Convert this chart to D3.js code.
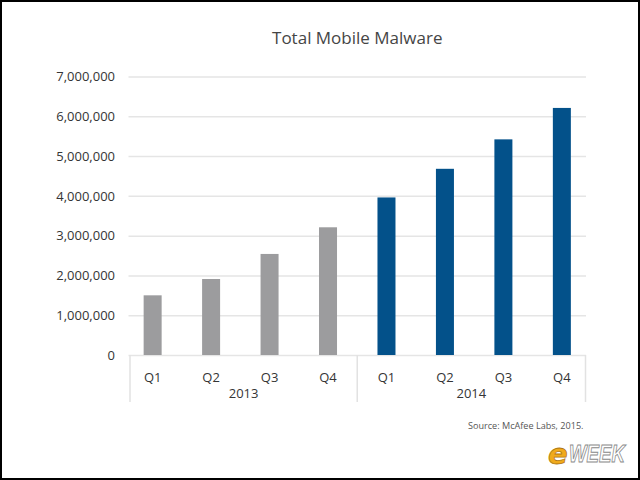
<!DOCTYPE html>
<html>
<head>
<meta charset="utf-8">
<script src="https://cdn.jsdelivr.net/npm/d3@7"></script>
<style>
  html, body { margin: 0; padding: 0; background: #fff; }
  svg { display: block; }
  text { font-family: "Open Sans", "Noto Sans", sans-serif; }
</style>
</head>
<body>
<svg id="chart" width="640" height="480"></svg>
<script>
// ---- data ----
const quarters = ["Q1", "Q2", "Q3", "Q4", "Q1", "Q2", "Q3", "Q4"];
const years = ["2013", "2013", "2013", "2013", "2014", "2014", "2014", "2014"];
const values = [1500000, 1910000, 2540000, 3210000, 3960000, 4680000, 5420000, 6210000];
const yTicks = [0, 1000000, 2000000, 3000000, 4000000, 5000000, 6000000, 7000000];
const yearLabels = ["2013", "2014"];
const chartTitle = "Total Mobile Malware";
const sourceText = "Source: McAfee Labs, 2015.";

// ---- layout ----
const plotLeft = 128.5, plotRight = 586, plotTop = 76.5, plotBottom = 355;
const svg = d3.select("#chart");

svg.append("rect").attr("x", 0).attr("y", 0).attr("width", 640).attr("height", 480).attr("fill", "#fff");

const keys = quarters.map((q, i) => years[i] + " " + q);
const x = d3.scaleBand().domain(keys).range([plotLeft, plotRight]).paddingInner(0.692).paddingOuter(0.259);
const y = d3.scaleLinear().domain([0, 7000000]).range([plotBottom, plotTop]);

// gridlines + y labels
const yAxis = d3.axisLeft(y).tickValues(yTicks).tickFormat(d3.format(",")).tickSize(-(plotRight - plotLeft)).tickPadding(13.5);
const gy = svg.append("g").attr("transform", `translate(${plotLeft},0)`).call(yAxis);
gy.select(".domain").remove();
gy.selectAll(".tick line").attr("stroke", "#e5e5e5").attr("stroke-width", 1.5);
gy.selectAll(".tick text").attr("fill", "#353535").style("font-size", "13px");

// bars
svg.append("g").selectAll("rect").data(values).join("rect")
  .attr("x", (d, i) => x(keys[i]))
  .attr("width", x.bandwidth())
  .attr("y", d => y(d))
  .attr("height", d => y(0) - y(d))
  .attr("fill", (d, i) => years[i] === "2013" ? "#9c9c9e" : "#03518a");

// x axis (quarters)
const xAxis = d3.axisBottom(x).tickSize(0).tickPadding(17.5).tickFormat((d, i) => quarters[i]);
const gx = svg.append("g").attr("transform", `translate(0,${plotBottom})`).call(xAxis);
gx.select(".domain").remove();
gx.selectAll(".tick text").attr("fill", "#353535").style("font-size", "13px");

// group separators and year labels
const gStart = plotLeft + 1.5;
const gMid = (x(keys[3]) + x(keys[4]) + x.bandwidth()) / 2;
const gEnd = plotRight - 0.5;
const seps = [gStart, gMid, gEnd];
svg.append("g").selectAll("line").data(seps).join("line")
  .attr("x1", d => d).attr("x2", d => d)
  .attr("y1", plotBottom).attr("y2", 402)
  .attr("stroke", "#e2e2e2").attr("stroke-width", 1.5);

const groupCenters = [(gStart + gMid) / 2, (gMid + gEnd) / 2];
svg.append("g").selectAll("text").data(yearLabels).join("text")
  .attr("x", (d, i) => groupCenters[i])
  .attr("y", 397.5)
  .attr("text-anchor", "middle")
  .attr("fill", "#353535")
  .style("font-size", "13px")
  .text(d => d);

// title
svg.append("text")
  .attr("x", (plotLeft + plotRight) / 2)
  .attr("y", 43.5)
  .attr("text-anchor", "middle")
  .attr("fill", "#454545")
  .style("font-size", "17px")
  .text(chartTitle);

// source
svg.append("text")
  .attr("x", 583.5)
  .attr("y", 429)
  .attr("text-anchor", "end")
  .attr("fill", "#555")
  .style("font-size", "9.1px")
  .text(sourceText);

// eWEEK logo
svg.append("text")
  .attr("x", 548)
  .attr("y", 464)
  .attr("fill", "#f0aa1c")
  .attr("stroke", "#b07810")
  .attr("stroke-width", 0.8)
  .style("font-family", "'DejaVu Sans', sans-serif")
  .style("font-weight", "bold")
  .style("font-style", "italic")
  .style("font-size", "29px")
  .text("e");
svg.append("text")
  .attr("x", 569)
  .attr("y", 462)
  .attr("fill", "#fff")
  .attr("stroke", "#8a8a8a")
  .attr("stroke-width", 0.9)
  .attr("textLength", 56)
  .attr("lengthAdjust", "spacingAndGlyphs")
  .style("font-family", "'Liberation Sans Narrow', 'Liberation Sans', sans-serif")
  .style("font-weight", "bold")
  .style("font-style", "italic")
  .style("font-size", "23px")
  .text("WEEK");

// frame
svg.append("rect").attr("x", 1).attr("y", 1).attr("width", 638).attr("height", 478)
  .attr("fill", "none").attr("stroke", "#000").attr("stroke-width", 2);
</script>
</body>
</html>
